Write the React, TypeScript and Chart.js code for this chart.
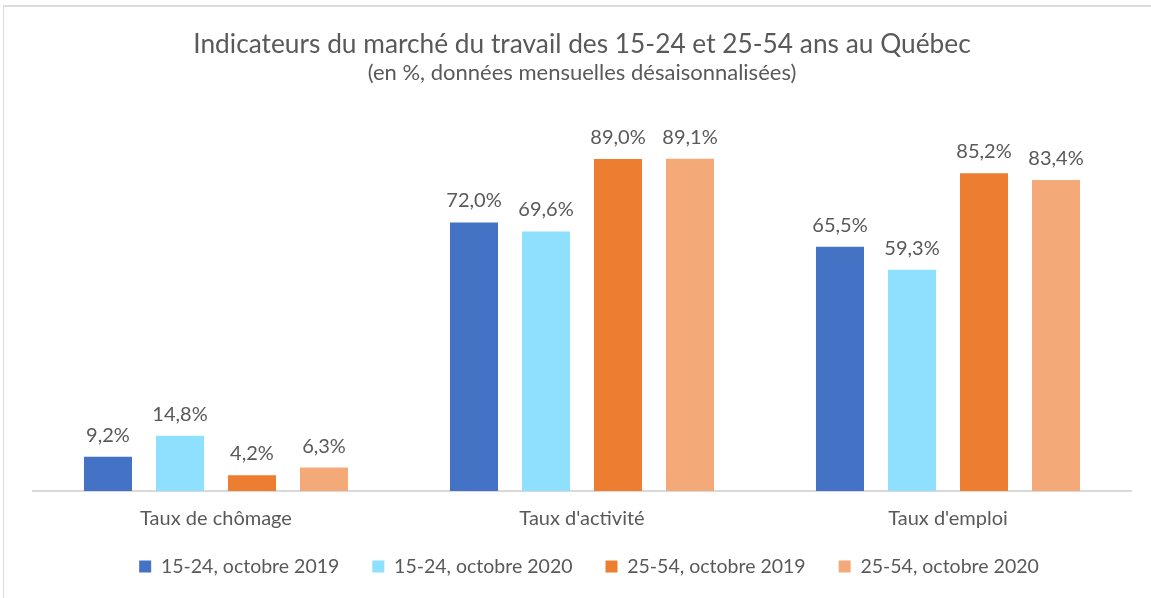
import React, { useEffect, useRef } from "react";
import { Chart, registerables } from "chart.js";

Chart.register(...registerables);

const categories = ["Taux de chômage", "Taux d'activité", "Taux d'emploi"];
const seriesLabels = [
  "15-24, octobre 2019",
  "15-24, octobre 2020",
  "25-54, octobre 2019",
  "25-54, octobre 2020",
];
const youth2019 = [9.2, 72.0, 65.5];
const youth2020 = [14.8, 69.6, 59.3];
const core2019 = [4.2, 89.0, 85.2];
const core2020 = [6.3, 89.1, 83.4];
const seriesColors = ["#4472C4", "#8EE0FE", "#ED7D31", "#F3AA78"];
const titleText = "Indicateurs du marché du travail des 15-24 et 25-54 ans au Québec";
const subtitleText = "(en %, données mensuelles désaisonnalisées)";

const FONT = "Lato";
const TEXT = "#595959";

const dataLabels = {
  id: "dataLabels",
  afterDatasetsDraw(chart: any) {
    const ctx = chart.ctx;
    ctx.save();
    ctx.font = `20px ${FONT}`;
    ctx.fillStyle = TEXT;
    ctx.textAlign = "center";
    ctx.textBaseline = "alphabetic";
    chart.data.datasets.forEach((ds: any, i: number) => {
      const meta = chart.getDatasetMeta(i);
      meta.data.forEach((bar: any, j: number) => {
        const v = ds.data[j] as number;
        const txt = v.toFixed(1).replace(".", ",") + "%";
        ctx.fillText(txt, bar.x, bar.y - 15);
      });
    });
    ctx.restore();
  },
};

// category labels drawn under the axis from the x scale (avoids label clipping)
const categoryLabels = {
  id: "categoryLabels",
  afterDraw(chart: any) {
    const xs = chart.scales.x;
    const ctx = chart.ctx;
    ctx.save();
    ctx.font = `20px ${FONT}`;
    ctx.fillStyle = TEXT;
    ctx.textAlign = "center";
    ctx.textBaseline = "middle";
    (chart.data.labels as string[]).forEach((lab, i) => {
      ctx.fillText(lab, xs.getPixelForValue(i), xs.top + 28);
    });
    ctx.restore();
  },
};

const legendShift = {
  id: "legendShift",
  afterLayout(chart: any) {
    if (chart.legend) {
      chart.legend.left += 7;
      chart.legend.right += 7;
    }
  },
};

export default function App() {
  const ref = useRef<HTMLCanvasElement | null>(null);
  useEffect(() => {
    if (!ref.current) return;
    const all = [youth2019, youth2020, core2019, core2020];
    const chart = new Chart(ref.current, {
      type: "bar",
      data: {
        labels: categories,
        datasets: all.map((d, i) => ({
          label: seriesLabels[i],
          data: d,
          backgroundColor: seriesColors[i],
          borderWidth: 0,
          barPercentage: 0.667,
          categoryPercentage: 0.787,
        })),
      },
      options: {
        responsive: false,
        animation: false,
        devicePixelRatio: 1,
        layout: { padding: { left: 33, right: 20, top: 0, bottom: 11.75 } },
        scales: {
          x: {
            grid: { display: false, drawTicks: false },
            border: { display: true, color: "#d9d9d9", width: 2 },
            ticks: { display: false },
            afterFit: (scale: any) => {
              scale.height = 32.75;
            },
          },
          y: { display: false, min: 0, max: 100 },
        },
        plugins: {
          title: {
            display: true,
            text: titleText,
            color: TEXT,
            font: { family: FONT, size: 26.3, weight: "normal", lineHeight: 1 },
            padding: { top: 31.85, bottom: 0 },
          },
          subtitle: {
            display: true,
            text: subtitleText,
            color: TEXT,
            font: { family: FONT, size: 22, weight: "normal", lineHeight: 1 },
            padding: { top: 3.85, bottom: 34 },
          },
          legend: {
            position: "bottom",
            labels: {
              color: TEXT,
              boxWidth: 12,
              boxHeight: 12,
              padding: 33,
              font: { family: FONT, size: 19.5 },
            },
          },
          tooltip: { enabled: false },
        },
      },
      plugins: [dataLabels, categoryLabels, legendShift],
    });
    return () => chart.destroy();
  }, []);

  return (
    <div style={{ position: "fixed", left: 0, top: 0, width: 1151, height: 598, background: "#fff", overflow: "hidden" }}>
      <div
        style={{
          position: "absolute",
          left: 3,
          top: 5,
          width: 1300,
          height: 700,
          borderTop: "2px solid #dcdcdc",
          borderLeft: "1px solid #dcdcdc",
        }}
      />
      <canvas ref={ref} width={1151} height={598} style={{ position: "absolute", left: 0, top: 0 }} />
    </div>
  );
}
